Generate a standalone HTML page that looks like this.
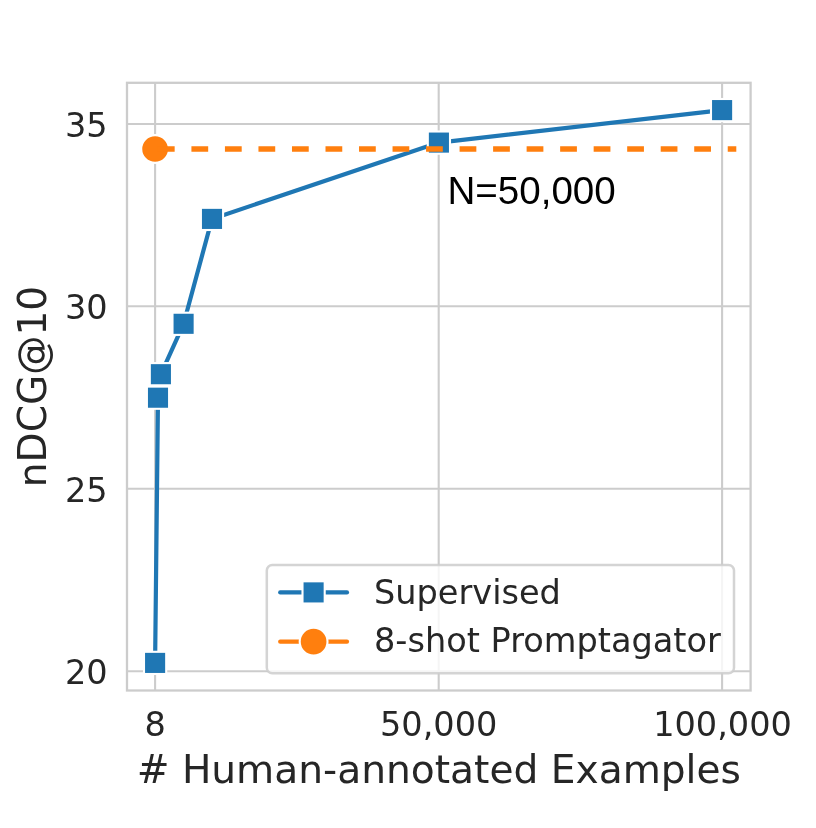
<!DOCTYPE html>
<html>
<head>
<meta charset="utf-8">
<title>nDCG@10 vs # Human-annotated Examples</title>
<style>
html,body{margin:0;padding:0;background:#fff;}
body{width:816px;height:828px;overflow:hidden;}
svg{display:block;}
.dv{font-family:"DejaVu Sans","Liberation Sans",sans-serif;fill:#262626;}
.tick{font-size:33.55px;}
.lab{font-size:39.15px;}
.leg{font-size:33.55px;}
.ann{font-family:"Liberation Sans",Arial,Helvetica,sans-serif;font-size:38.6px;fill:#000;}
</style>
</head>
<body>
<svg width="816" height="828" viewBox="0 0 816 828">
<rect x="0" y="0" width="816" height="828" fill="#ffffff"/>
<!-- grid -->
<g stroke="#cccccc" stroke-width="2.1" fill="none">
<line x1="155.1" y1="82.8" x2="155.1" y2="690.5"/>
<line x1="438.7" y1="82.8" x2="438.7" y2="690.5"/>
<line x1="722.1" y1="82.8" x2="722.1" y2="690.5"/>
<line x1="127" y1="124.0" x2="750.6" y2="124.0"/>
<line x1="127" y1="306.3" x2="750.6" y2="306.3"/>
<line x1="127" y1="488.8" x2="750.6" y2="488.8"/>
<line x1="127" y1="671.3" x2="750.6" y2="671.3"/>
</g>
<!-- supervised line -->
<polyline points="155.1,662.9 158.0,397.7 160.9,374.2 183.6,323.8 212.0,218.9 438.9,142.6 722.1,110.1" fill="none" stroke="#1f77b4" stroke-width="4.2" stroke-linejoin="round" stroke-linecap="round"/>
<g fill="#1f77b4" stroke="#ffffff" stroke-width="2.1">
<rect x="144.0" y="651.8" width="22.2" height="22.2"/>
<rect x="146.9" y="386.6" width="22.2" height="22.2"/>
<rect x="149.8" y="363.1" width="22.2" height="22.2"/>
<rect x="172.5" y="312.7" width="22.2" height="22.2"/>
<rect x="200.9" y="207.8" width="22.2" height="22.2"/>
<rect x="427.8" y="131.5" width="22.2" height="22.2"/>
<rect x="711.0" y="99.0" width="22.2" height="22.2"/>
</g>
<!-- promptagator line -->
<circle cx="155.1" cy="149.0" r="13.9" fill="#ff7f0e" stroke="#ffffff" stroke-width="2.1"/>
<line x1="157.9" y1="149.0" x2="736.3" y2="149.0" stroke="#ff7f0e" stroke-width="5.6" stroke-dasharray="16.76 16.76"/>
<!-- spines -->
<rect x="127.0" y="82.8" width="623.6" height="607.7" fill="none" stroke="#cccccc" stroke-width="2.3"/>
<!-- annotation -->
<text class="ann" x="447.4" y="204.4">N=50,000</text>
<!-- legend -->
<rect x="266.8" y="565.0" width="467.2" height="108.3" rx="5.5" ry="5.5" fill="#ffffff" fill-opacity="0.8" stroke="#cccccc" stroke-opacity="0.85" stroke-width="2.5"/>
<line x1="280.2" y1="592.4" x2="347.0" y2="592.4" stroke="#1f77b4" stroke-width="4.2" stroke-linecap="round"/>
<rect x="302.5" y="581.3" width="22.2" height="22.2" fill="#1f77b4" stroke="#ffffff" stroke-width="2.1"/>
<line x1="280.2" y1="641.7" x2="347.0" y2="641.7" stroke="#ff7f0e" stroke-width="4.2" stroke-linecap="round"/>
<circle cx="313.6" cy="641.7" r="13.9" fill="#ff7f0e" stroke="#ffffff" stroke-width="2.1"/>
<text class="dv leg" x="374.0" y="604.2">Supervised</text>
<text class="dv leg" x="374.0" y="652.2">8-shot Promptagator</text>
<!-- tick labels -->
<g class="dv tick" text-anchor="end">
<text x="107.7" y="137.0">35</text>
<text x="107.7" y="319.3">30</text>
<text x="107.7" y="501.8">25</text>
<text x="107.7" y="684.3">20</text>
</g>
<g class="dv tick" text-anchor="middle">
<text x="155.1" y="736.0">8</text>
<text x="438.7" y="736.0">50,000</text>
<text x="722.5" y="736.0">100,000</text>
</g>
<!-- axis labels -->
<text class="dv lab" text-anchor="middle" x="438.8" y="783.1"># Human-annotated Examples</text>
<text class="dv lab" text-anchor="middle" transform="translate(45.8,386.5) rotate(-90)">nDCG@10</text>
</svg>
</body>
</html>
